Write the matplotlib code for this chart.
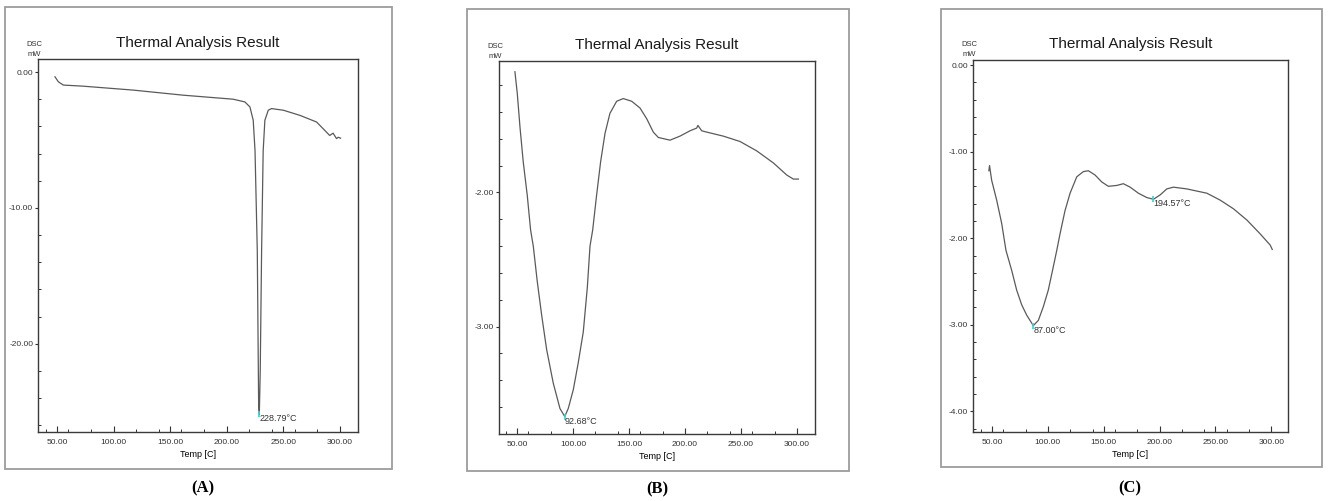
import matplotlib
matplotlib.use("Agg")
import matplotlib.pyplot as plt
from matplotlib.patches import Rectangle
from matplotlib.ticker import MultipleLocator, FormatStrFormatter

# ---------------------------------------------------------------------------
# Data (Temp [C], DSC [mW])
# ---------------------------------------------------------------------------
temp_a = [48.2, 51.2, 55.6, 73.0, 117.4, 161.0, 205.7, 216.0, 220.5, 223.4,
          225.0, 227.0, 228.2, 228.79, 229.6, 230.8, 232.2, 233.7, 236.7,
          239.6, 250.0, 264.7, 279.4, 286.7, 291.0, 294.0, 297.0, 298.5, 300.6]
dsc_a = [-0.35, -0.72, -0.96, -1.04, -1.33, -1.70, -2.00, -2.20, -2.57, -3.55,
         -5.8, -13.2, -24.6, -25.2, -22.0, -13.2, -5.8, -3.55, -2.81,
         -2.69, -2.81, -3.19, -3.68, -4.30, -4.67, -4.50, -4.90, -4.80, -4.87]

temp_b = [48.2, 50.3, 52.7, 55.6, 59.2, 62.2, 64.6, 68.1, 72.0, 76.5, 82.4,
          88.4, 92.68, 95.8, 100.3, 104.7, 109.2, 112.8, 115.2, 117.6, 121.1,
          124.7, 128.6, 133.0, 139.0, 144.9, 152.4, 159.8, 165.8, 171.7, 176.2,
          186.6, 195.5, 204.5, 210.4, 211.5, 214.9, 219.4, 234.2, 249.1, 264.0,
          278.9, 290.8, 296.7, 301.2]
dsc_b = [-1.10, -1.26, -1.51, -1.77, -2.02, -2.28, -2.40, -2.66, -2.91, -3.17,
         -3.42, -3.61, -3.67, -3.61, -3.47, -3.27, -3.04, -2.71, -2.40, -2.28,
         -2.02, -1.77, -1.56, -1.41, -1.32, -1.30, -1.32, -1.37, -1.45, -1.55,
         -1.59, -1.61, -1.58, -1.54, -1.52, -1.50, -1.54, -1.55, -1.58, -1.62,
         -1.69, -1.78, -1.87, -1.90, -1.90]

temp_c = [47.2, 47.8, 49.7, 54.2, 58.7, 62.5, 67.6, 72.1, 76.6, 81.1, 87.0,
          91.5, 96.0, 100.4, 104.9, 108.0, 110.9, 115.4, 119.9, 125.9, 131.8,
          136.3, 142.3, 148.3, 154.2, 161.7, 167.6, 173.7, 181.1, 188.6, 194.57,
          200.5, 206.5, 212.4, 224.4, 242.4, 254.3, 266.2, 278.2, 290.1, 299.1,
          300.9]
dsc_c = [-1.22, -1.16, -1.33, -1.56, -1.83, -2.14, -2.37, -2.60, -2.77, -2.89,
         -3.01, -2.95, -2.79, -2.60, -2.33, -2.14, -1.95, -1.68, -1.48, -1.29,
         -1.23, -1.22, -1.27, -1.35, -1.40, -1.39, -1.37, -1.41, -1.48, -1.53,
         -1.55, -1.50, -1.43, -1.41, -1.43, -1.48, -1.56, -1.66, -1.79, -1.95,
         -2.08, -2.13]

peaks_a = [(228.79, -25.2)]
peaks_b = [(92.68, -3.67)]
peaks_c = [(87.00, -3.01), (194.57, -1.55)]

x_major = [50, 100, 150, 200, 250, 300]
panel_tags = ["(A)", "(B)", "(C)"]

# ---------------------------------------------------------------------------
# Layout (pixels of a 1328x501 canvas)
# ---------------------------------------------------------------------------
W, H = 1328, 501
NARROW = ["DejaVu Sans Condensed", "Liberation Sans Narrow", "Liberation Sans", "DejaVu Sans"]
LINE_C = "#5a5a5a"

fig = plt.figure(figsize=(W / 100, H / 100), dpi=100)
fig.patch.set_facecolor("white")


def fx(x):
    return x / W


def fy(y):
    return 1 - y / H


def panel(frame, box, temp, dsc, peaks, xlim, ylim, ymajor, yminor, tag, tag_xy):
    # outer grey frame
    fl, ft, fr, fb = frame
    fig.patches.append(Rectangle((fx(fl), fy(fb)), (fr - fl) / W, (fb - ft) / H,
                                 transform=fig.transFigure, fill=False,
                                 edgecolor="#9c9c9c", linewidth=1.3))
    l, t, r, b = box
    ax = fig.add_axes([fx(l), fy(b), (r - l) / W, (b - t) / H])
    ax.plot(temp, dsc, color=LINE_C, linewidth=0.9)
    for px, py in peaks:
        ax.plot([px], [py], marker="|", color="#33d6d6", markersize=4, mew=1.2)
        ax.text(px, py, f"{px:.2f}°C", fontsize=6.5, family=NARROW,
                color="#333333", ha="left", va="top")
    ax.set_xlim(*xlim)
    ax.set_ylim(*ylim)
    ax.set_xticks(x_major)
    ax.xaxis.set_minor_locator(MultipleLocator(20))
    ax.yaxis.set_major_locator(MultipleLocator(ymajor))
    ax.yaxis.set_minor_locator(MultipleLocator(yminor))
    ax.xaxis.set_major_formatter(FormatStrFormatter("%.2f"))
    ax.yaxis.set_major_formatter(FormatStrFormatter("%.2f"))
    ax.tick_params(axis="x", which="major", direction="in", length=4, width=0.8,
                   labelsize=6, pad=5, colors="#333333")
    ax.tick_params(axis="x", which="minor", direction="in", length=2.5, width=0.7,
                   colors="#333333")
    ax.tick_params(axis="y", which="major", direction="out", length=2.5, width=0.8,
                   labelsize=6, pad=1, colors="#333333")
    ax.tick_params(axis="y", which="minor", direction="in", length=2, width=0.7,
                   colors="#333333")
    for lab in ax.get_xticklabels() + ax.get_yticklabels():
        lab.set_family(NARROW)
    for sp in ax.spines.values():
        sp.set_color("#3a3a3a")
        sp.set_linewidth(1.0)
    ax.set_xlabel("Temp [C]", fontsize=6.5, family=NARROW, labelpad=3)
    cx = (l + r) / 2
    fig.text(fx(cx), fy(t - 12), "Thermal Analysis Result", ha="center",
             va="baseline", fontsize=11, family=NARROW, color="#1a1a1a")
    fig.text(fx(l - 4), fy(t - 15), "DSC", ha="center", va="center",
             fontsize=5.5, family=NARROW, color="#333333")
    fig.text(fx(l - 4), fy(t - 5), "mW", ha="center", va="center",
             fontsize=5.5, family=NARROW, color="#333333")
    fig.text(fx(tag_xy[0]), fy(tag_xy[1]), tag, ha="center", va="center",
             fontsize=12, fontweight="bold", family=["Liberation Serif", "DejaVu Serif"])
    return ax


panel((5, 7, 392, 469), (38, 59, 358, 432), temp_a, dsc_a, peaks_a,
      (33.2, 316.0), (-26.5, 0.96), 10, 2, panel_tags[0], (203, 488))
panel((467, 9, 849, 471), (499, 61, 815, 434), temp_b, dsc_b, peaks_b,
      (34.0, 316.0), (-3.80, -1.02), 1, 0.2, panel_tags[1], (657, 489))
panel((941, 9, 1322, 467), (973, 60, 1288, 432), temp_c, dsc_c, peaks_c,
      (33.0, 315.0), (-4.24, 0.06), 1, 0.2, panel_tags[2], (1130, 488))

fig.savefig("out.png", dpi=100)
